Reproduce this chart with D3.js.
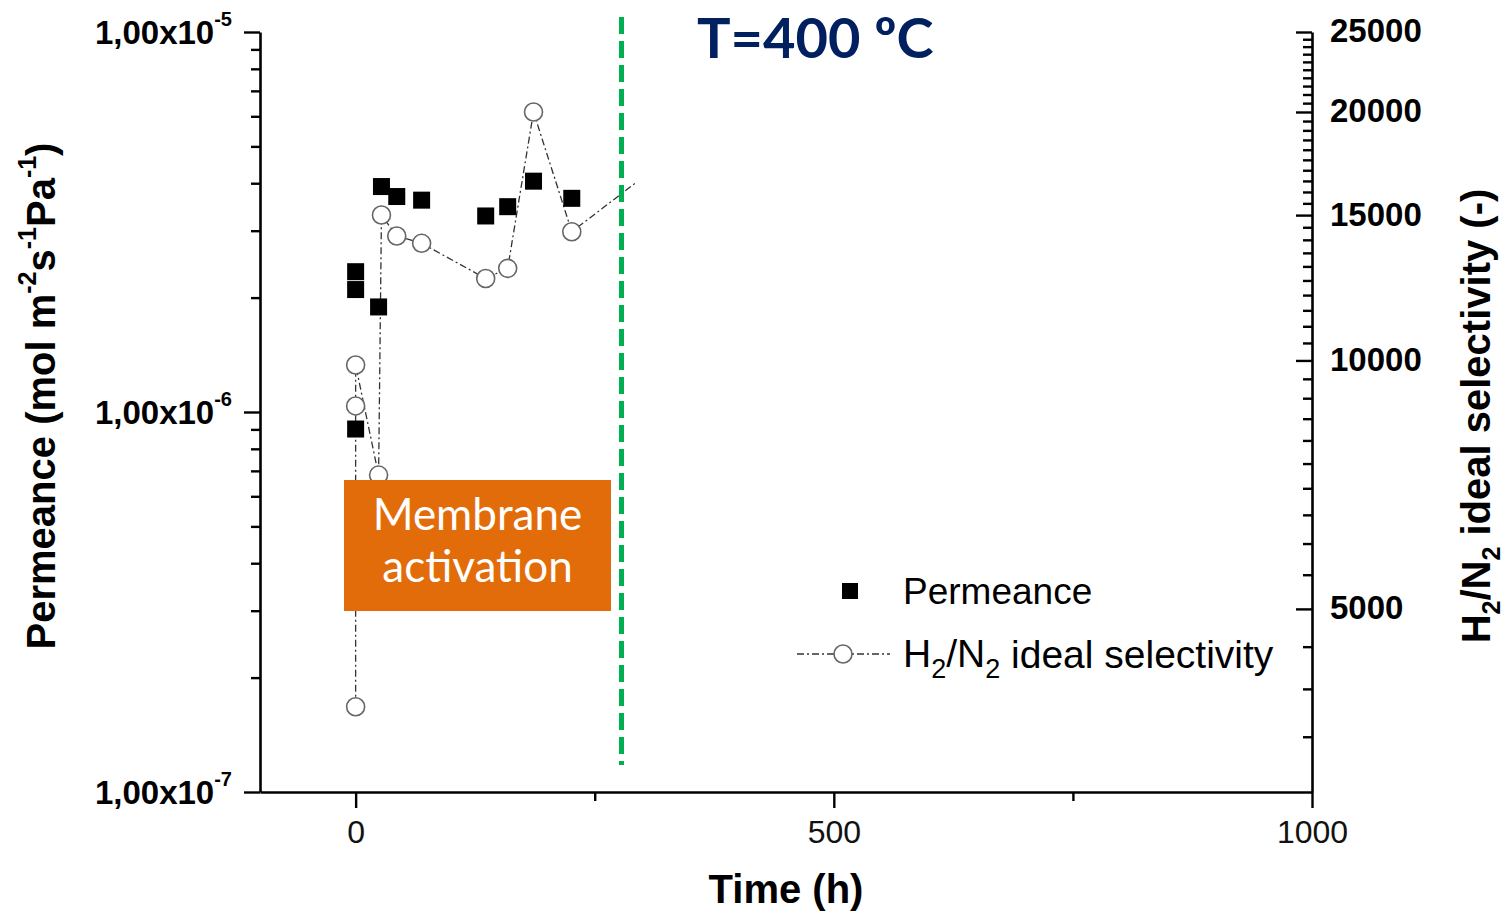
<!DOCTYPE html>
<html>
<head>
<meta charset="utf-8">
<script src="https://cdn.jsdelivr.net/npm/d3@7/dist/d3.min.js"></script>
<style>
  html, body { margin: 0; padding: 0; background: #fff; }
  svg { display: block; }
</style>
</head>
<body>
<svg id="chart" width="1505" height="913"></svg>
<script>
// Measurement times (h)
const times = [0, 0, 0, 24, 27, 43, 69, 136, 159, 186, 226];
// H2 permeance (mol m-2 s-1 Pa-1)
const permeance = [9.02e-7, 2.10e-6, 2.34e-6, 1.89e-6, 3.92e-6, 3.69e-6, 3.61e-6, 3.28e-6, 3.47e-6, 4.05e-6, 3.65e-6];
// H2/N2 ideal selectivity (-)
const selectivity = [3805, 8808, 9873, 7263, 15005, 14150, 13865, 12570, 12930, 20000, 14320];
// Selectivity trend continues past the last marked reading (line only)
const trendTime = [226, 294];
const trendSelectivity = [14320, 16450];

// Axis ticks
const timeTicks = [0, 500, 1000];
const timeMinorTicks = [250, 750];
const permTicks = [1e-7, 1e-6, 1e-5];
const permTickLabels = [["1,00x10", "-7"], ["1,00x10", "-6"], ["1,00x10", "-5"]];
const selTicks = [5000, 10000, 15000, 20000, 25000];

// End of the activation stage (h)
const activationEnd = 278;

const svg = d3.select("#chart");
const plotL = 260, plotR = 1312, plotT = 32, plotB = 792;
const FONT = "'Liberation Sans', Arial, sans-serif";

const x = d3.scaleLinear().domain([-100, 1000]).range([plotL, plotR]);
const yL = d3.scaleLog().domain([1e-7, 1e-5]).range([plotB, plotT]);
const yR = d3.scaleLog().domain([3000, 25000]).range([plotB, plotT]);

// ---------- Axes ----------
const axisStroke = (g) => {
  g.selectAll(".domain").attr("stroke", "#000").attr("stroke-width", 2.6);
  g.selectAll(".tick line").attr("stroke", "#000").attr("stroke-width", 2.4);
};

// Bottom axis
const gx = svg.append("g").attr("transform", `translate(0,${plotB})`)
  .call(d3.axisBottom(x).tickValues(timeTicks).tickSizeInner(16).tickSizeOuter(0).tickPadding(12).tickFormat(d3.format("d")));
axisStroke(gx);
gx.selectAll(".tick text").attr("font-family", FONT).attr("font-size", 32).attr("fill", "#111");
svg.append("g").attr("transform", `translate(0,${plotB})`)
  .call(d3.axisBottom(x).tickValues(timeMinorTicks).tickSizeInner(9).tickSizeOuter(0).tickFormat(""))
  .call(axisStroke).select(".domain").remove();

// Left axis (log)
const gl = svg.append("g").attr("transform", `translate(${plotL},0)`)
  .call(d3.axisLeft(yL).tickValues(permTicks).tickSizeInner(16).tickSizeOuter(0).tickPadding(12).tickFormat(() => ""));
axisStroke(gl);
gl.selectAll(".tick text").each(function(d, i) {
  const t = d3.select(this).attr("font-family", FONT).attr("font-size", 33).attr("font-weight", "bold")
    .attr("fill", "#000").attr("dy", "0.35em").text(null);
  t.append("tspan").text(permTickLabels[i][0]);
  t.append("tspan").attr("font-size", 20).attr("dy", "-0.9em").text(permTickLabels[i][1]);
});
const permMinor = [];
[1e-7, 1e-6].forEach(dec => { for (let k = 2; k <= 9; k++) permMinor.push(k * dec); });
svg.append("g").attr("transform", `translate(${plotL},0)`)
  .call(d3.axisLeft(yL).tickValues(permMinor).tickSizeInner(9).tickSizeOuter(0).tickFormat(""))
  .call(axisStroke).select(".domain").remove();

// Right axis (log), ticks pointing inward
const gr = svg.append("g").attr("transform", `translate(${plotR},0)`)
  .call(d3.axisRight(yR).tickValues(selTicks).tickSizeInner(-16).tickSizeOuter(0).tickPadding(18).tickFormat(d3.format("d")));
axisStroke(gr);
gr.selectAll(".tick text").attr("font-family", FONT).attr("font-size", 33).attr("font-weight", "bold")
  .attr("fill", "#000").attr("dy", "0.3em");
const selMinor = d3.range(3500, 25000, 500).filter(v => v % 5000 !== 0);
svg.append("g").attr("transform", `translate(${plotR},0)`)
  .call(d3.axisRight(yR).tickValues(selMinor).tickSizeInner(-9).tickSizeOuter(0).tickFormat(""))
  .call(axisStroke).select(".domain").remove();

// ---------- Axis titles ----------
svg.append("text").attr("x", (plotL + plotR) / 2).attr("y", 903).attr("text-anchor", "middle")
  .attr("font-family", FONT).attr("font-size", 40).attr("font-weight", "bold").text("Time (h)");

const lt = svg.append("text").attr("transform", "translate(55,396) rotate(-90)").attr("text-anchor", "middle")
  .attr("font-family", FONT).attr("font-size", 40).attr("font-weight", "bold");
lt.append("tspan").text("Permeance (mol m");
lt.append("tspan").attr("font-size", 25).attr("dy", "-0.75em").text("-2");
lt.append("tspan").attr("dy", "0.47em").text("s");
lt.append("tspan").attr("font-size", 25).attr("dy", "-0.75em").text("-1");
lt.append("tspan").attr("dy", "0.47em").text("Pa");
lt.append("tspan").attr("font-size", 25).attr("dy", "-0.75em").text("-1");
lt.append("tspan").attr("dy", "0.47em").text(")");

const rt = svg.append("text").attr("transform", "translate(1490,416) rotate(-90)").attr("text-anchor", "middle")
  .attr("font-family", FONT).attr("font-size", 40).attr("font-weight", "bold");
rt.append("tspan").text("H");
rt.append("tspan").attr("font-size", 25).attr("dy", "0.4em").text("2");
rt.append("tspan").attr("dy", "-0.25em").text("/N");
rt.append("tspan").attr("font-size", 25).attr("dy", "0.4em").text("2");
rt.append("tspan").attr("dy", "-0.25em").text(" ideal selectivity (-)");

// ---------- Data ----------
const selPts = times.map((t, i) => [t, selectivity[i]]);
const trendPts = trendTime.map((t, i) => [t, trendSelectivity[i]]);
const line = d3.line().x(d => x(d[0])).y(d => yR(d[1]));
const dash = "7,3,2,3";

svg.append("path").datum(selPts.concat(trendPts.slice(1))).attr("d", line)
  .attr("fill", "none").attr("stroke", "#333").attr("stroke-width", 1.3).attr("stroke-dasharray", dash);

svg.append("g").selectAll("circle").data(selPts).join("circle")
  .attr("cx", d => x(d[0])).attr("cy", d => yR(d[1])).attr("r", 9)
  .attr("fill", "#fff").attr("stroke", "#666").attr("stroke-width", 1.6);

const sq = 17;
svg.append("g").selectAll("rect").data(times.map((t, i) => [t, permeance[i]])).join("rect")
  .attr("x", d => x(d[0]) - sq / 2).attr("y", d => yL(d[1]) - sq / 2)
  .attr("width", sq).attr("height", sq).attr("fill", "#000");

// ---------- Activation stage annotation ----------
svg.append("rect").attr("x", 344).attr("y", 480).attr("width", 267).attr("height", 131).attr("fill", "#e36c0a");
svg.append("text").attr("x", 477.5).attr("y", 530).attr("text-anchor", "middle")
  .attr("font-family", "Lato, sans-serif").attr("font-size", 44).attr("fill", "#fff").text("Membrane");
svg.append("text").attr("x", 477.5).attr("y", 582).attr("text-anchor", "middle")
  .attr("font-family", "Lato, sans-serif").attr("font-size", 44).attr("fill", "#fff").text("activation");

svg.append("line").attr("x1", x(activationEnd)).attr("x2", x(activationEnd)).attr("y1", 17).attr("y2", 765)
  .attr("stroke", "#00b050").attr("stroke-width", 5).attr("stroke-dasharray", "17,7");

svg.append("text").attr("x", 697).attr("y", 58)
  .attr("font-family", "Lato, sans-serif").attr("font-size", 56).attr("font-weight", "bold")
  .attr("fill", "#002060").text("T=400 ºC");

// ---------- Legend ----------
const lg = svg.append("g");
lg.append("rect").attr("x", 850 - 8).attr("y", 591 - 8).attr("width", 16).attr("height", 16).attr("fill", "#000");
lg.append("text").attr("x", 903).attr("y", 604).attr("font-family", FONT).attr("font-size", 37).text("Permeance");
lg.append("line").attr("x1", 797).attr("x2", 890).attr("y1", 654).attr("y2", 654)
  .attr("stroke", "#333").attr("stroke-width", 1.3).attr("stroke-dasharray", dash);
lg.append("circle").attr("cx", 843).attr("cy", 654).attr("r", 9).attr("fill", "#fff").attr("stroke", "#666").attr("stroke-width", 1.6);
const l2 = lg.append("text").attr("x", 903).attr("y", 667).attr("font-family", FONT).attr("font-size", 39);
l2.append("tspan").text("H");
l2.append("tspan").attr("font-size", 27).attr("dy", "0.4em").text("2");
l2.append("tspan").attr("dy", "-0.27em").text("/N");
l2.append("tspan").attr("font-size", 27).attr("dy", "0.4em").text("2");
l2.append("tspan").attr("dy", "-0.27em").text(" ideal selectivity");
</script>
</body>
</html>
